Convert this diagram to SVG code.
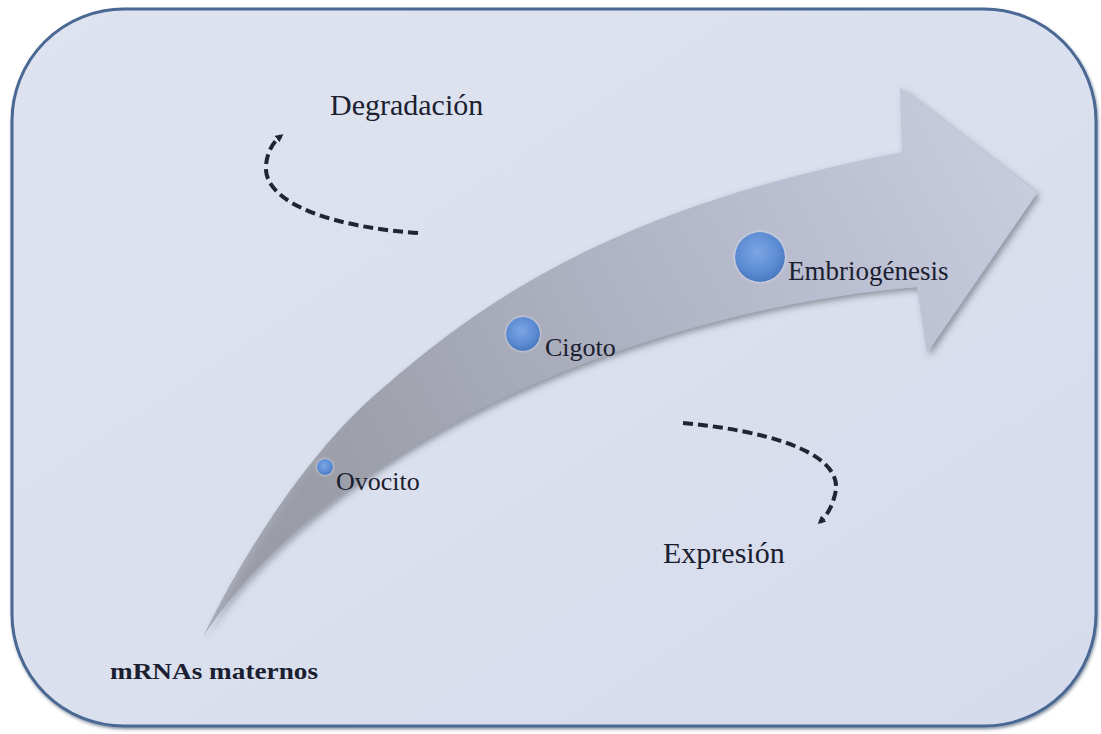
<svg xmlns="http://www.w3.org/2000/svg" width="1101" height="734" viewBox="0 0 1101 734">
  <defs>
    <linearGradient id="bg" x1="0" y1="0" x2="1" y2="1">
      <stop offset="0" stop-color="#dfe3ef"/>
      <stop offset="0.5" stop-color="#dbe0ee"/>
      <stop offset="1" stop-color="#d5dbec"/>
    </linearGradient>
    <linearGradient id="arrowFill" gradientUnits="userSpaceOnUse" x1="203" y1="637" x2="1037" y2="193">
      <stop offset="0" stop-color="#8e9099" stop-opacity="0.6"/>
      <stop offset="0.25" stop-color="#9ea1ab"/>
      <stop offset="0.55" stop-color="#aeb2c2"/>
      <stop offset="0.85" stop-color="#bfc3d6"/>
      <stop offset="1" stop-color="#c8ccdf"/>
    </linearGradient>
    <radialGradient id="ball" cx="0.45" cy="0.4" r="0.6">
      <stop offset="0" stop-color="#7ca6e4"/>
      <stop offset="0.7" stop-color="#5b8bd3"/>
      <stop offset="1" stop-color="#4a78bf"/>
    </radialGradient>
    <filter id="shadow" x="-10%" y="-10%" width="130%" height="130%">
      <feDropShadow dx="3" dy="3" stdDeviation="3" flood-color="#40444f" flood-opacity="0.5"/>
    </filter>
    <filter id="boxShadow" x="-5%" y="-5%" width="110%" height="110%">
      <feDropShadow dx="1" dy="2" stdDeviation="1.5" flood-color="#1f3350" flood-opacity="0.5"/>
    </filter>
    <filter id="glow" x="-50%" y="-50%" width="200%" height="200%">
      <feDropShadow dx="0" dy="0" stdDeviation="1.5" flood-color="#e6eefc" flood-opacity="0.9"/>
    </filter>
    <marker id="ah" markerWidth="8" markerHeight="8" refX="5" refY="4" orient="auto" markerUnits="userSpaceOnUse">
      <path d="M0,0 L8,4 L0,8 z" fill="#1e2533"/>
    </marker>
    <style>
      .lbl { font-family: "Liberation Serif", "Times New Roman", serif; fill: #1b2030; }
      .dash { fill: none; stroke: #1e2533; stroke-width: 4; stroke-dasharray: 10 5; }
    </style>
  </defs>

  <rect x="0" y="0" width="1101" height="734" fill="#ffffff"/>
  <g id="frame">
    <rect x="12" y="9" width="1084" height="717" rx="112" ry="112" fill="url(#bg)" stroke="#4a6893" stroke-width="3" filter="url(#boxShadow)"/>
  </g>

  <g id="bigArrow">
    <path d="M203,637 C235,570 300,460 377,393 C470,312 600,210 902,152 L900,87 L1037,193 L927,353 L917,287 C750,300 540,360 380,467 C300,520 240,580 203,637 Z" fill="url(#arrowFill)" filter="url(#shadow)"/>
  </g>

  <g id="connectors">
    <path class="dash" d="M418,233 C340,228 262,205 266,165 Q268,146 281,136" marker-end="url(#ah)"/>
    <path class="dash" d="M683,423 C760,430 840,450 836,490 Q832,511 820,522" marker-end="url(#ah)"/>
  </g>

  <g id="node-ovocito">
    <circle cx="325" cy="467" r="8" fill="url(#ball)" filter="url(#glow)"/>
    <text class="lbl" x="336" y="490" font-size="26">Ovocito</text>
  </g>
  <g id="node-cigoto">
    <circle cx="523" cy="334" r="17" fill="url(#ball)" filter="url(#glow)"/>
    <text class="lbl" x="545" y="356" font-size="26">Cigoto</text>
  </g>
  <g id="node-embriogenesis">
    <circle cx="760" cy="257" r="25" fill="url(#ball)" filter="url(#glow)"/>
    <text class="lbl" x="788" y="280" font-size="27">Embriogénesis</text>
  </g>
  <g id="label-degradacion">
    <text class="lbl" x="330" y="115" font-size="30">Degradación</text>
  </g>
  <g id="label-expresion">
    <text class="lbl" x="663" y="563" font-size="30">Expresión</text>
  </g>
  <g id="label-mrnas">
    <text class="lbl" x="110" y="679" font-size="23" font-weight="bold" textLength="208" lengthAdjust="spacingAndGlyphs">mRNAs maternos</text>
  </g>
</svg>
